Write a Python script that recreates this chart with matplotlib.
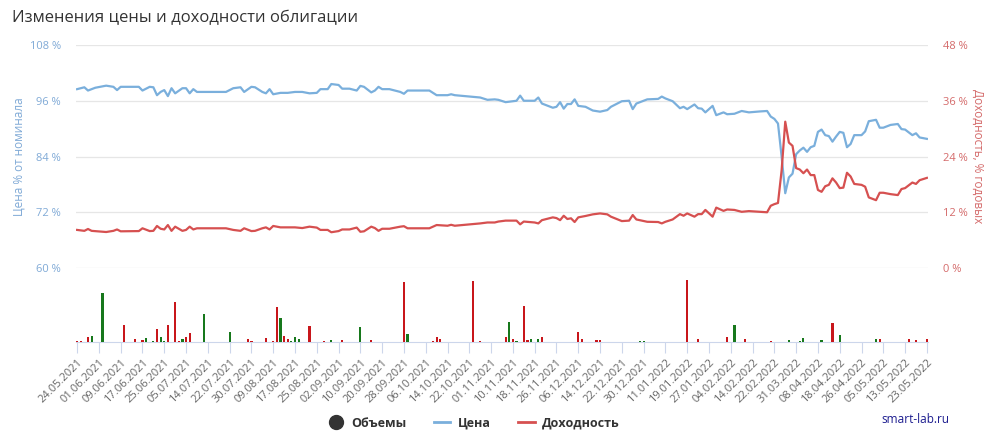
"""Bond price and yield history with traded volumes."""

import matplotlib
matplotlib.use('Agg')
import matplotlib.pyplot as plt
from matplotlib.lines import Line2D
import numpy as np


plt.rcParams['font.family'] = ['Open Sans', 'DejaVu Sans']


# ================================ DATA ======================================

# x axis: trading-day index, a labelled tick every 6 sessions
tick_labels = [
    '24.05.2021', '01.06.2021', '09.06.2021', '17.06.2021', '25.06.2021',
    '05.07.2021', '14.07.2021', '22.07.2021', '30.07.2021', '09.08.2021',
    '17.08.2021', '25.08.2021', '02.09.2021', '10.09.2021', '20.09.2021',
    '28.09.2021', '06.10.2021', '14.10.2021', '22.10.2021', '01.11.2021',
    '10.11.2021', '18.11.2021', '26.11.2021', '06.12.2021', '14.12.2021',
    '22.12.2021', '30.12.2021', '11.01.2022', '19.01.2022', '27.01.2022',
    '04.02.2022', '14.02.2022', '22.02.2022', '31.03.2022', '08.04.2022',
    '18.04.2022', '26.04.2022', '05.05.2022', '13.05.2022', '23.05.2022',
]
tick_step = 6

# price, % of face value
price_idx = [
    0, 2, 3, 5, 8, 10, 11, 12, 17, 18, 20, 21, 22, 23, 24, 25, 26, 27, 29, 30,
    31, 32, 33, 41, 43, 45, 46, 48, 49, 51, 52, 53, 54, 56, 58, 60, 62, 64, 66,
    67, 69, 70, 72, 73, 75, 77, 78, 79, 81, 82, 83, 84, 86, 89, 90, 91, 97, 99,
    102, 103, 104, 111, 113, 115, 116, 118, 121, 122, 123, 126, 127, 128, 131,
    132, 133, 134, 135, 136, 137, 138, 140, 142, 144, 146, 147, 150, 152, 153,
    154, 157, 160, 161, 162, 164, 166, 167, 168, 170, 171, 172, 173, 175, 176,
    178, 179, 181, 183, 185, 188, 190, 191, 192, 193, 194, 195, 196, 197, 198,
    199, 200, 201, 202, 203, 204, 205, 206, 207, 208, 209, 210, 211, 212, 213,
    214, 216, 217, 218, 220, 221, 222, 224, 226, 227, 228, 230, 231, 232, 234,
]
price_val = [
    98.5, 98.9, 98.2, 98.8, 99.25, 99.0, 98.3, 99.0, 99.0, 98.2, 99.0, 98.9,
    97.2, 97.9, 98.3, 97.0, 98.7, 97.6, 98.7, 98.7, 97.6, 98.5, 97.9, 97.9,
    98.7, 98.9, 97.9, 99.0, 98.9, 97.9, 97.6, 98.5, 97.4, 97.7, 97.7, 97.9,
    97.9, 97.6, 97.7, 98.5, 98.5, 99.6, 99.4, 98.6, 98.6, 98.2, 99.2, 99.0,
    97.8, 98.2, 99.0, 98.5, 98.5, 97.9, 97.5, 98.2, 98.2, 97.2, 97.2, 97.4,
    97.2, 96.7, 96.2, 96.3, 96.2, 95.7, 96.0, 97.1, 96.0, 96.0, 96.7, 95.4,
    94.5, 94.7, 95.7, 94.3, 95.3, 95.3, 96.3, 94.9, 94.7, 93.9, 93.65, 94.0,
    94.7, 95.9, 96.0, 94.2, 95.4, 96.3, 96.4, 96.9, 96.5, 95.9, 94.4, 94.7,
    94.2, 95.2, 94.4, 94.3, 93.5, 94.9, 92.9, 93.5, 93.1, 93.2, 93.8, 93.5,
    93.7, 93.8, 92.6, 92.1, 91.1, 84.0, 76.1, 79.5, 80.3, 84.5, 85.3, 85.9,
    85.0, 86.0, 86.3, 89.3, 89.8, 88.6, 88.4, 87.2, 88.3, 89.3, 89.1, 86.0,
    86.7, 88.6, 88.6, 89.4, 91.6, 91.9, 90.2, 90.2, 90.8, 91.0, 89.9, 89.8,
    88.6, 89.0, 88.1, 87.8,
]

# yield, % per year
yield_idx = [
    0, 2, 3, 4, 8, 10, 11, 12, 17, 18, 20, 21, 22, 23, 24, 25, 26, 27, 29, 30,
    31, 32, 33, 41, 43, 45, 46, 48, 49, 51, 52, 53, 54, 56, 60, 62, 64, 66, 67,
    69, 70, 72, 73, 75, 77, 78, 79, 81, 82, 83, 84, 86, 89, 90, 91, 97, 99,
    102, 103, 104, 111, 113, 115, 116, 118, 121, 122, 123, 126, 127, 128, 131,
    132, 133, 134, 135, 136, 137, 138, 140, 142, 144, 146, 147, 150, 152, 153,
    154, 157, 160, 161, 162, 164, 166, 167, 168, 170, 171, 172, 173, 175, 176,
    178, 179, 181, 183, 185, 188, 190, 191, 192, 193, 194, 195, 196, 197, 198,
    199, 200, 201, 202, 203, 204, 205, 206, 207, 208, 209, 210, 211, 212, 213,
    214, 216, 217, 218, 220, 221, 222, 224, 226, 227, 228, 230, 231, 232, 234,
]
yield_val = [
    8.2, 8.0, 8.4, 8.0, 7.75, 8.0, 8.3, 7.9, 7.95, 8.55, 7.95, 8.0, 9.05, 8.45,
    8.3, 9.25, 8.0, 8.9, 8.0, 8.2, 8.9, 8.3, 8.55, 8.55, 8.2, 8.0, 8.55, 7.95,
    8.0, 8.55, 8.75, 8.3, 9.05, 8.75, 8.75, 8.6, 8.9, 8.7, 8.2, 8.2, 7.7, 7.95,
    8.3, 8.3, 8.7, 7.8, 7.9, 8.9, 8.6, 8.0, 8.45, 8.45, 8.9, 9.0, 8.55, 8.55,
    9.25, 9.1, 9.3, 9.1, 9.6, 9.8, 9.8, 10.0, 10.2, 10.2, 9.4, 10.0, 9.8, 9.6,
    10.3, 10.9, 10.75, 10.3, 11.25, 10.55, 10.7, 9.9, 10.9, 11.2, 11.55, 11.75,
    11.55, 11.05, 10.1, 10.2, 11.4, 10.45, 9.95, 9.9, 9.6, 9.95, 10.45, 11.6,
    11.25, 11.75, 11.05, 11.6, 11.6, 12.5, 11.05, 13.0, 12.3, 12.6, 12.5, 12.1,
    12.25, 12.1, 12.0, 13.4, 13.75, 14.0, 21.0, 31.5, 27.0, 26.3, 21.5, 21.2,
    20.4, 21.2, 20.0, 20.0, 16.8, 16.4, 17.6, 17.9, 19.3, 18.4, 17.2, 17.3,
    20.5, 19.7, 18.1, 17.9, 17.5, 15.2, 14.6, 16.2, 16.2, 15.9, 15.7, 17.0,
    17.2, 18.4, 18.1, 18.9, 19.4,
]

# traded volume (relative), 'r' = price down, 'g' = price up
vol_idx = [
    0, 1, 3, 4, 7, 13, 16, 18, 19, 21, 22, 23, 24, 25, 27, 28, 29, 30, 31, 35,
    42, 47, 48, 52, 54, 55, 56, 57, 58, 59, 60, 61, 64, 68, 70, 73, 78, 81, 90,
    91, 98, 99, 100, 109, 111, 118, 119, 120, 121, 123, 124, 125, 127, 128,
    138, 139, 143, 144, 155, 156, 168, 171, 179, 181, 184, 191, 196, 199, 200,
    205, 208, 210, 220, 221, 229, 231, 234,
]
vol_val = [
    3, 3, 14, 18, 148, 51, 8, 6, 11, 2, 39, 14, 4, 51, 121, 3, 9, 16, 27, 84,
    30, 9, 4, 12, 2, 106, 72, 18, 10, 3, 15, 8, 49, 3, 6, 6, 46, 6, 183,
    24, 3, 15, 8, 186, 4, 15, 61, 8, 4, 108, 6, 8, 8, 16,
    30, 8, 6, 6, 3, 3, 189, 9, 15, 51, 8, 2, 5, 4, 11,
    5, 57, 21, 8, 8, 8, 5, 9,
]
vol_dir = (
    'rrrggrrrggrggrrrgrrg'
    'grrrrrgrrgggrrgrgrr'
    'grrrrrrgrgrrggr'
    'rrrrggrrrgrrggg'
    'grggrrr'
)


# ================================ STYLE =====================================

c_price = '#7aafdc'
c_yield = '#d65050'
c_grid = '#e6e6e6'
c_axis = '#ccd6eb'
c_up = '#17781c'
c_down = '#c8161b'


# ================================ FIGURE ====================================

fig = plt.figure(figsize=(9.91, 4.43), dpi=100)

ax_p = fig.add_axes([0.0767, 0.395, 0.8597, 0.5034])
ax_y = ax_p.twinx()
ax_v = fig.add_axes([0.0767, 0.228, 0.8597, 0.149], sharex=ax_p)

n_last = tick_step * (len(tick_labels) - 1)
ax_p.set_xlim(-0.3, n_last + 0.3)


# Price / yield ----------------------------------------------------------------

ax_p.plot(price_idx, price_val, color=c_price, lw=1.6, zorder=3)
ax_y.plot(yield_idx, yield_val, color=c_yield, lw=1.6, zorder=3)

ax_p.set_ylim(60, 108)
ax_y.set_ylim(0, 48)
ax_p.set_yticks(np.arange(60, 109, 12))
ax_y.set_yticks(np.arange(0, 49, 12))
ax_p.set_yticklabels([f'{v} %' for v in range(60, 109, 12)])
ax_y.set_yticklabels([f'{v} %' for v in range(0, 49, 12)])

ax_p.grid(axis='y', color=c_grid, lw=0.9)
ax_p.set_axisbelow(True)
for ax in (ax_p, ax_y):
    for s in ax.spines.values():
        s.set_visible(False)
    ax.tick_params(axis='x', which='both', bottom=False, labelbottom=False)

ax_p.tick_params(axis='y', length=0, pad=11, labelsize=8, labelcolor='#7fa9d6')
ax_y.tick_params(axis='y', length=0, pad=11, labelsize=8, labelcolor='#d46a6a')

fig.text(0.019, 0.647, 'Цена % от номинала', rotation=90, ha='center',
         va='center', fontsize=8.5, color='#7fa9d6')
fig.text(0.986, 0.647, 'Доходность, % годовых', rotation=-90, ha='center',
         va='center', fontsize=8.5, color='#d46a6a')


# Volumes --------------------------------------------------------------------

vol_colors = [c_up if d == 'g' else c_down for d in vol_dir]
ax_v.bar(vol_idx, vol_val, width=0.6, color=vol_colors, zorder=3)
ax_v.set_ylim(0, 200)
ax_v.set_yticks([])
for side in ('top', 'left', 'right'):
    ax_v.spines[side].set_visible(False)
ax_v.spines['bottom'].set_color(c_axis)

ax_v.set_xticks(np.arange(0, n_last + 1, tick_step))
ax_v.set_xticklabels(tick_labels, rotation=45, ha='right', va='top',
                     rotation_mode='anchor')
ax_v.tick_params(axis='x', length=8, color=c_axis, labelsize=8,
                 labelcolor='#666666', pad=3)


# Title / legend / credit ----------------------------------------------------

fig.text(0.012, 0.958, 'Изменения цены и доходности облигации',
         fontsize=12, color='#333333', ha='left', va='center')

handles = [
    Line2D([], [], ls='none', marker='o', markersize=10, color='#333333'),
    Line2D([], [], color=c_price, lw=2),
    Line2D([], [], color=c_yield, lw=2),
]
fig.legend(handles, ['Объемы', 'Цена', 'Доходность'], loc='center',
           bbox_to_anchor=(0.478, 0.045), ncol=3, frameon=False,
           handlelength=1.3, handletextpad=0.6, columnspacing=2.2,
           prop={'size': 9, 'weight': 'bold'}, labelcolor='#333333')

fig.text(0.958, 0.052, 'smart-lab.ru', ha='right', va='center',
         fontsize=8.5, color='#1c1c8f')


# ================================ FINAL =====================================

fig.savefig('out.png', dpi=100)
